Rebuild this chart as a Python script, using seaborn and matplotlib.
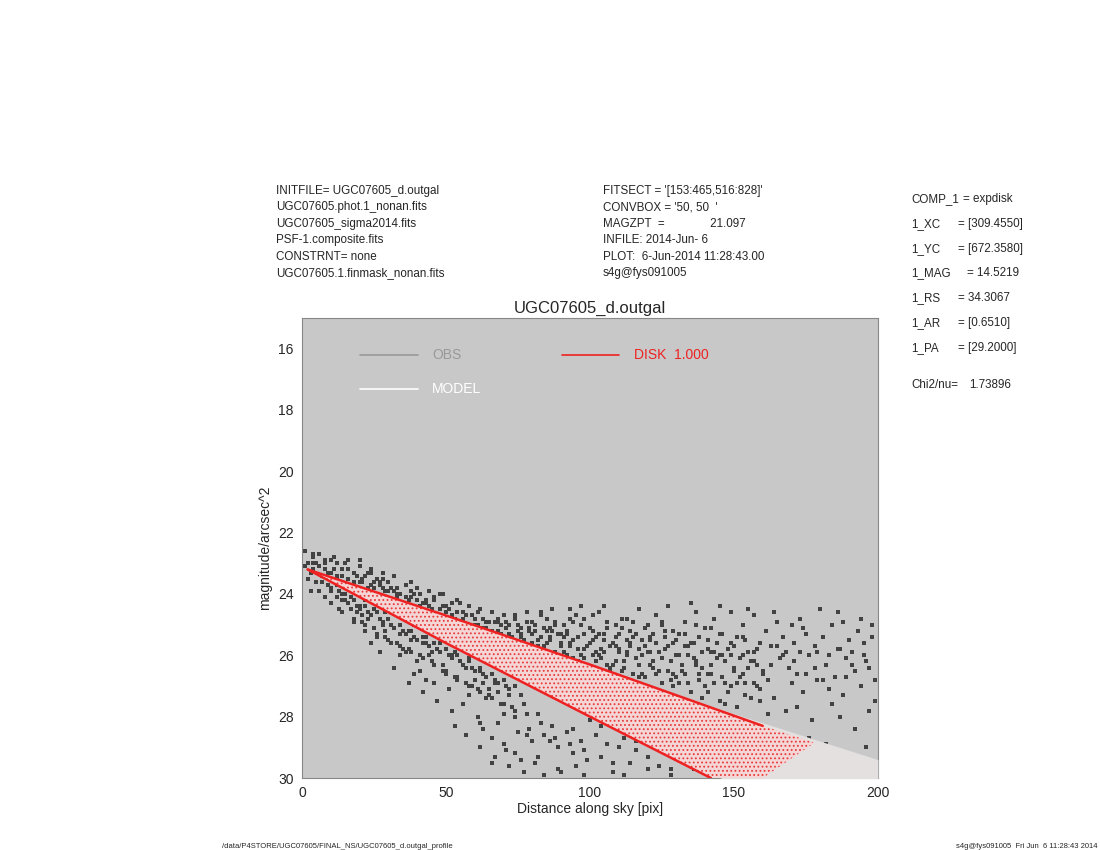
import numpy as np
import pandas as pd
import matplotlib
matplotlib.use("Agg")
import matplotlib.pyplot as plt
import seaborn as sns

inner_x = [1, 2, 3, 2, 4, 5, 3, 4, 1, 5, 6, 7, 8, 9, 6, 8, 10, 9, 7, 10,
           11, 12, 13, 14, 11, 15, 13, 12, 14, 15, 16, 17, 18, 19, 16, 20, 18, 17, 20, 19,
           21, 22, 23, 24, 22, 25, 23, 21, 24, 25, 24, 26, 27, 28, 29, 26, 30, 28, 27, 29, 30, 28,
           31, 32, 33, 34, 31, 35, 33, 32, 34, 35, 33, 36, 37, 38, 39, 36, 40, 38, 37, 39, 40, 38]
inner_y = [22.6, 23.0, 23.3, 23.5, 22.8, 23.6, 23.9, 23.2, 23.1, 23.0, 22.7, 23.4, 23.0, 23.7, 23.9, 24.1, 22.9, 23.3, 23.6, 23.8,
           22.8, 23.5, 23.9, 24.2, 23.2, 23.0, 24.5, 23.7, 23.4, 24.0, 23.2, 24.1, 23.6, 24.6, 24.3, 22.9, 24.9, 23.8, 24.4, 23.4,
           23.5, 24.2, 24.8, 23.3, 25.2, 24.5, 23.8, 24.7, 24.0, 23.6, 25.6, 24.3, 23.7, 25.0, 24.6, 25.4, 23.9, 24.1, 25.9, 25.2, 24.8, 23.5,
           24.2, 25.1, 24.7, 26.0, 25.6, 24.4, 23.8, 26.4, 25.3, 25.8, 24.0, 24.6, 25.2, 24.1, 26.6, 25.9, 24.8, 25.5, 26.9, 25.0, 26.2, 23.9]

mid_x = [41, 42, 43, 44, 41, 45, 43, 42, 44, 45, 43, 46, 47, 48, 49, 46, 50, 48, 47, 49, 50, 46,
         51, 52, 53, 54, 51, 55, 53, 52, 54, 55, 53, 56, 57, 58, 59, 56, 60, 58, 57, 59, 60, 58,
         61, 62, 63, 64, 61, 65, 63, 62, 64, 65, 63, 66, 67, 68, 69, 66, 70, 68, 67, 69, 70, 68,
         71, 72, 73, 74, 71, 75, 73, 72, 74, 75, 73, 76, 77, 78, 79, 76, 80, 78, 77, 79, 80, 78,
         81, 82, 83, 84, 81, 85, 83, 82, 84, 85, 83, 86, 87, 88, 89, 86, 90, 88, 87, 89, 90, 88,
         91, 92, 93, 94, 91, 95, 93, 92, 94, 95, 93, 96, 97, 98, 99, 96, 100, 98, 97, 99, 100, 98]
mid_y = [24.0, 25.6, 24.3, 26.0, 26.5, 24.6, 25.4, 27.2, 23.9, 25.9, 26.8, 24.2, 25.8, 24.7, 26.3, 26.9, 24.4, 25.6, 27.5, 24.0, 26.6, 25.3,
         24.5, 26.0, 24.9, 26.7, 27.1, 24.3, 25.9, 27.8, 24.6, 26.2, 28.3, 24.8, 26.4, 24.4, 27.0, 27.6, 25.0, 26.1, 28.6, 24.7, 26.8, 27.3,
         24.6, 26.5, 25.1, 27.4, 28.0, 24.9, 26.9, 29.0, 25.3, 27.1, 28.4, 25.2, 26.9, 24.8, 27.6, 28.7, 25.4, 27.2, 29.3, 25.0, 27.9, 28.2,
         24.9, 27.3, 25.5, 28.0, 29.1, 25.2, 27.7, 29.6, 24.7, 28.5, 26.0, 25.3, 27.6, 24.9, 28.4, 29.4, 25.6, 27.9, 29.8, 25.1, 28.8, 26.2,
         25.0, 27.9, 25.4, 28.6, 29.5, 24.8, 28.2, 25.7, 29.9, 25.2, 24.6, 25.5, 28.3, 24.9, 29.0, 25.1, 25.7, 28.7, 24.5, 29.7, 25.3, 26.0,
         25.0, 28.5, 25.6, 29.2, 25.9, 24.7, 28.9, 25.3, 26.1, 29.6, 24.5, 25.4, 28.8, 24.8, 29.4, 26.2, 25.1, 25.8, 24.4, 26.4, 28.1, 29.9]

outer_x = [101, 102, 103, 104, 105, 106, 107, 108, 109, 110, 101, 103, 105, 107, 109, 102, 104, 106, 108, 110,
           111, 112, 113, 114, 115, 116, 117, 118, 119, 120, 111, 113, 115, 117, 119, 112, 114, 116, 118, 120,
           121, 122, 123, 124, 125, 126, 127, 128, 129, 130, 121, 123, 125, 127, 129, 122, 124, 126, 128, 130,
           131, 132, 133, 134, 135, 136, 137, 138, 139, 140, 131, 133, 135, 137, 139, 132, 134, 136, 138, 140,
           141, 142, 143, 144, 145, 146, 147, 148, 149, 150, 141, 143, 145, 147, 149, 142,
           151, 152, 153, 154, 155, 156, 157, 158, 159, 160, 151, 153, 155, 157, 159, 154, 156, 158]
outer_y = [25.2, 25.9, 24.6, 26.1, 25.5, 24.9, 25.7, 26.3, 25.0, 25.8, 26.0, 25.3, 24.4, 26.5, 25.4, 28.6, 29.3, 28.9, 29.8, 29.0,
           25.1, 26.2, 24.8, 25.6, 26.6, 25.3, 24.5, 26.0, 25.7, 25.0, 26.5, 25.9, 24.9, 26.3, 26.7, 28.7, 29.5, 29.1, 28.4, 29.7,
           25.4, 26.4, 24.7, 25.9, 26.9, 25.2, 24.4, 26.2, 25.6, 26.7, 25.9, 26.6, 25.0, 25.7, 27.0, 28.9, 29.6, 28.3, 29.9, 28.6,
           25.3, 26.5, 24.9, 26.0, 27.2, 25.6, 24.6, 26.8, 25.9, 25.1, 26.9, 25.7, 24.3, 26.3, 27.4, 29.2, 28.5, 29.7, 28.9, 29.4,
           25.5, 26.6, 24.8, 26.1, 27.5, 25.3, 26.9, 25.8, 24.6, 26.4, 27.2, 25.9, 24.4, 27.6, 26.0, 25.1,
           25.4, 26.7, 25.0, 27.3, 25.9, 26.2, 24.7, 27.0, 25.6, 26.5, 27.7, 26.0, 24.5, 26.9, 27.5, 28.8, 29.2, 28.3]

edge_x = [161, 162, 163, 164, 165, 166, 167, 168, 169, 170, 162, 164, 166, 168, 170,
          171, 172, 173, 174, 175, 176, 177, 178, 179, 180, 172, 174, 176, 178,
          181, 182, 183, 184, 185, 186, 187, 188, 189, 190, 182, 184, 186, 188,
          191, 192, 193, 194, 195, 196, 197, 198, 199, 192, 194, 196, 198, 199,
          163, 167, 171, 175, 179, 183, 187, 191, 195, 165, 173, 181, 189, 197]
edge_y = [25.2, 26.8, 25.7, 27.4, 24.9, 26.1, 25.4, 27.8, 26.4, 25.0, 27.9, 24.6, 28.5, 25.9, 26.9,
          25.6, 26.6, 24.8, 27.2, 25.3, 26.0, 28.1, 25.7, 26.8, 24.5, 27.7, 25.1, 28.7, 26.4,
          25.4, 26.3, 27.1, 25.0, 26.7, 25.8, 28.0, 24.9, 26.1, 25.5, 28.9, 27.6, 24.6, 27.3,
          25.9, 26.5, 25.2, 27.0, 25.6, 26.2, 27.8, 25.4, 26.8, 28.4, 24.8, 29.0, 25.0, 27.5,
          26.3, 26.0, 26.2, 26.6, 25.9, 26.0, 25.8, 26.3, 26.0, 25.7, 25.9, 26.8, 26.7, 26.4]

# denser parts of the cloud: just above and below the model band, and the flat outer plateau
above_x = [4, 4, 6, 8, 8, 10, 12, 12, 14, 16, 16, 18, 20, 20, 22, 24, 24, 26, 28, 28, 30, 32, 32, 34,
           36, 36, 38, 40, 40, 42, 44, 44, 46, 48, 48, 50, 52, 52, 54, 56, 56, 58, 60, 60, 62, 64, 64,
           66, 68, 68, 70, 72, 72, 74, 76, 76, 78,
           21, 25, 29, 33, 37, 41, 45, 49, 53, 57, 61, 65, 69, 73, 77, 79,
           23, 27, 31, 35, 39, 43, 47, 51, 55, 59, 63, 67, 71, 75]
above_y = [23.0, 22.7, 23.1, 22.9, 23.2, 23.3, 23.0, 23.4, 23.2, 23.5, 22.9, 23.3, 23.6, 23.1, 23.4,
           23.7, 23.2, 23.5, 23.8, 23.3, 23.6, 23.9, 23.4, 24.0, 23.7, 24.1, 23.6, 24.2, 23.8, 24.3,
           23.9, 24.4, 24.1, 24.5, 24.0, 24.6, 24.3, 24.7, 24.2, 24.6, 24.9, 24.4, 24.8, 25.0, 24.5,
           24.9, 25.1, 24.6, 25.2, 24.9, 24.7, 25.3, 25.0, 24.8, 25.4, 25.1, 24.6,
           23.6, 23.8, 23.9, 24.1, 24.2, 24.4, 24.5, 24.4, 24.8, 24.7, 25.0, 25.2, 25.3, 25.4, 25.5, 25.2,
           23.3, 23.6, 23.8, 24.3, 24.0, 24.2, 24.7, 24.5, 25.0, 24.7, 24.8, 24.9, 25.1, 25.0]
below_x = [10, 10, 12, 14, 14, 16, 18, 18, 20, 22, 22, 24, 26, 26, 28, 30, 30, 32, 34, 34, 36, 38, 38,
           40, 42, 42, 44, 46, 46, 48, 50, 50, 52, 54, 54, 56, 58, 58, 60, 62, 62, 64, 66, 66, 68, 70,
           70, 72, 74, 74, 76,
           15, 19, 23, 27, 31, 35, 39, 43, 47, 51, 55, 59, 63, 67, 71,
           17, 21, 25, 29, 33, 37, 41, 45, 49, 53, 57, 61, 65, 69]
below_y = [23.9, 24.3, 24.1, 24.0, 24.6, 24.3, 24.2, 24.8, 24.5, 24.4, 25.0, 24.7, 24.6, 25.3, 24.9,
           24.8, 25.5, 25.1, 25.0, 25.7, 25.3, 25.2, 25.9, 25.5, 25.4, 26.1, 25.7, 25.6, 26.3, 25.9,
           25.8, 26.5, 26.1, 26.0, 26.8, 26.3, 26.2, 27.0, 26.5, 26.4, 27.2, 26.7, 26.6, 27.4, 26.9,
           26.8, 27.6, 27.1, 27.0, 27.8, 27.3,
           24.2, 24.4, 24.6, 24.8, 25.0, 25.2, 25.4, 25.6, 25.8, 26.0, 26.2, 26.4, 26.6, 26.8, 27.0,
           24.5, 24.9, 25.1, 25.4, 25.6, 25.8, 26.0, 26.2, 26.5, 26.7, 26.9, 27.1, 27.3, 27.6]
plateau_x = [80, 80, 82, 84, 84, 86, 88, 88, 90, 92, 92, 94, 94, 96, 98, 98, 100, 102, 102, 104, 106,
             106, 108, 110, 110, 112, 114, 114, 116, 118, 118, 120, 122, 122, 124, 126, 126, 128, 130,
             130, 132, 134, 134, 136, 138, 138, 140, 142, 142, 144, 146, 146, 148, 150, 150, 152, 154,
             154, 156, 158, 158, 160,
             81, 83, 85, 87, 89, 91, 93, 95, 97, 99, 101, 103, 105, 107, 109, 111, 113, 115, 117, 119,
             121, 123, 125, 127, 129, 131, 133, 135, 137, 139, 141, 143, 145, 147, 149, 151, 153, 155,
             157, 159,
             81, 85, 89, 93, 97, 101, 105, 109, 113, 117, 121, 125, 129, 133, 137, 141, 145, 149, 153, 157]
plateau_y = [25.3, 24.9, 25.5, 25.1, 25.7, 25.4, 25.0, 25.9, 25.6, 25.2, 26.0, 25.5, 24.9, 25.8, 25.3,
             26.1, 25.6, 25.4, 26.2, 25.8, 25.1, 26.3, 25.6, 25.9, 25.3, 26.4, 25.7, 25.2, 26.1, 25.5,
             26.6, 25.9, 25.3, 26.2, 26.5, 25.8, 25.4, 26.8, 26.0, 25.5, 26.3, 25.7, 26.9, 26.1, 25.4,
             26.6, 27.0, 25.9, 26.3, 25.6, 26.7, 26.0, 27.2, 25.7, 26.5, 26.1, 25.5, 26.9, 27.4, 26.3,
             25.8, 26.6,
             25.8, 24.7, 25.9, 25.2, 26.1, 25.4, 24.8, 26.2, 25.0, 25.7, 24.7, 26.0, 25.3, 26.4, 25.7,
             24.8, 26.0, 25.4, 26.7, 25.1, 26.3, 25.6, 24.9, 26.5, 25.2, 26.0, 26.6, 25.6, 25.0, 26.4,
             25.8, 26.9, 25.3, 26.2, 25.6, 26.9, 25.4, 26.4, 25.9, 27.1,
             25.2, 25.6, 25.3, 25.7, 26.0, 25.5, 25.9, 26.2, 25.5, 25.8, 25.5, 26.1, 26.6, 25.3, 26.2,
             26.6, 26.0, 27.0, 26.6, 26.2]
tail_x = [62, 66, 70, 74, 78, 82, 86, 90, 94, 98, 104, 108, 112, 116, 120, 124, 128, 132, 136]
tail_y = [28.2, 29.5, 28.9, 29.2, 28.6, 29.3, 28.8, 29.8, 28.4, 29.1, 28.3, 29.5, 29.9, 28.8, 29.3,
          28.5, 29.7, 28.7, 29.0]

# model band edges (major / minor axis of the exponential disk)
band_x = [2, 50, 100, 150, 200]
band_upper = [23.2, 24.7, 26.3, 27.9, 29.4]
band_lower = [23.2, 25.6, 28.0, 30.4, 32.8]

# part of the band covered by the red disk points
red_x = [2, 50, 100, 142, 160, 178]
red_upper = [23.2, 24.7, 26.3, 27.7, 28.3, 28.85]
red_lower = [23.2, 25.6, 28.0, 30.0, 30.0, 28.85]

header_left = ["INITFILE= UGC07605_d.outgal", "UGC07605.phot.1_nonan.fits",
               "UGC07605_sigma2014.fits", "PSF-1.composite.fits",
               "CONSTRNT= none", "UGC07605.1.finmask_nonan.fits"]
header_mid = ["FITSECT = '[153:465,516:828]'", "CONVBOX = '50, 50  '",
              "MAGZPT  =              21.097", "INFILE: 2014-Jun- 6",
              "PLOT:  6-Jun-2014 11:28:43.00", "s4g@fys091005"]
par_names = ["COMP_1", "1_XC", "1_YC", "1_MAG", "1_RS", "1_AR", "1_PA"]
par_values = ["= expdisk", "= [309.4550]", "= [672.3580]", "= 14.5219",
              "= 34.3067", "= [0.6510]", "= [29.2000]"]
chi2 = "1.73896"

obs = pd.DataFrame({
    "r": inner_x + mid_x + outer_x + edge_x + above_x + below_x + plateau_x + tail_x,
    "mu": inner_y + mid_y + outer_y + edge_y + above_y + below_y + plateau_y + tail_y,
})

sns.set_style("white")
plt.rcParams["font.family"] = ["Liberation Sans", "DejaVu Sans"]

fig = plt.figure(figsize=(11, 8.5), dpi=100)
ax = fig.add_axes([0.2745, 0.0847, 0.5236, 0.5412])
ax.set_facecolor("#c8c8c8")

sns.scatterplot(data=obs, x="r", y="mu", ax=ax, marker="s", s=6,
                color="#424242", linewidth=0, zorder=2)

bx = np.array(band_x)
ax.fill_between(bx, band_upper, np.minimum(band_lower, 30.2), color="#e4e0e0",
                linewidth=0, zorder=3)
plt.rcParams["hatch.linewidth"] = 0.8
ax.fill_between(red_x, red_upper, red_lower, facecolor="#f4d6d6",
                hatch="....", edgecolor="#e83a3a", linewidth=0, zorder=4)
ax.plot(red_x[:5], red_upper[:5], color="#ee2222", lw=1.8, zorder=5)
ax.plot(red_x[:4], red_lower[:4], color="#ee2222", lw=1.8, zorder=5)

ax.set_xlim(0, 200)
ax.set_ylim(30, 15)
ax.set_xticks([0, 50, 100, 150, 200])
ax.set_yticks([16, 18, 20, 22, 24, 26, 28, 30])
ax.tick_params(labelsize=10, length=0, pad=6)
ax.set_xlabel("Distance along sky [pix]", fontsize=10, labelpad=1)
ax.set_ylabel("magnitude/arcsec^2", fontsize=10, labelpad=4)
ax.set_title("UGC07605_d.outgal", fontsize=12, pad=4)
for sp in ax.spines.values():
    sp.set_color("#888888")
    sp.set_linewidth(0.8)

# legend drawn as in the original plot
ax.plot([0.101, 0.201], [0.920, 0.920], transform=ax.transAxes, color="#999999", lw=1.2)
ax.text(0.226, 0.920, "OBS", transform=ax.transAxes, color="#999999", fontsize=10, va="center")
ax.plot([0.101, 0.201], [0.846, 0.846], transform=ax.transAxes, color="white", lw=1.2)
ax.text(0.226, 0.846, "MODEL", transform=ax.transAxes, color="white", fontsize=10, va="center")
ax.plot([0.451, 0.550], [0.920, 0.920], transform=ax.transAxes, color="#ee2222", lw=1.2)
ax.text(0.576, 0.920, "DISK  1.000", transform=ax.transAxes, color="#ee2222", fontsize=10, va="center")

W, H = 1100, 850
fs = 8.4
for i, s in enumerate(header_left):
    fig.text(276 / W, 1 - (191 + 16.4 * i) / H, s, fontsize=fs, va="center")
for i, s in enumerate(header_mid):
    fig.text(603 / W, 1 - (191 + 16.4 * i) / H, s, fontsize=fs, va="center")
val_x = {"COMP_1": 963, "1_MAG": 967}
for i, (n, v) in enumerate(zip(par_names, par_values)):
    y = 1 - (199 + 24.8 * i) / H
    fig.text(911 / W, y, n, fontsize=fs, va="center")
    fig.text(val_x.get(n, 958) / W, y, v, fontsize=fs, va="center")
fig.text(911 / W, 1 - 385 / H, "Chi2/nu=", fontsize=fs, va="center")
fig.text(969 / W, 1 - 385 / H, chi2, fontsize=fs, va="center")

fig.text(222 / W, 1 - 846 / H, "/data/P4STORE/UGC07605/FINAL_NS/UGC07605_d.outgal_profile",
         fontsize=5.5, va="center")
fig.text(1098 / W, 1 - 846 / H, "s4g@fys091005  Fri Jun  6 11:28:43 2014",
         fontsize=5.5, va="center", ha="right")

fig.savefig("out.png", dpi=100)
